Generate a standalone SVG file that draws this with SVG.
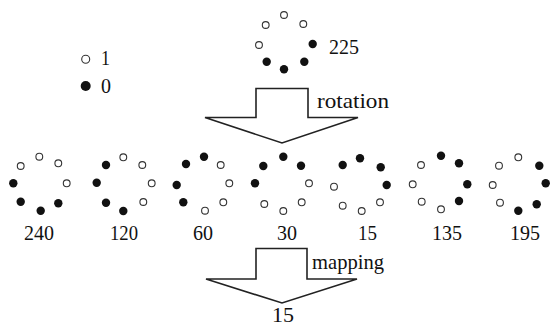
<svg xmlns="http://www.w3.org/2000/svg" width="552" height="327" viewBox="0 0 552 327">
<style>
.o{fill:#fff;stroke:#333;stroke-width:1.1}
.f{fill:#111}
text{font-family:'Liberation Serif','Times New Roman',Times,serif;font-size:21px;fill:#111}
.ar{fill:#fff;stroke:#222;stroke-width:1.6;stroke-linejoin:miter}
</style>
<rect width="552" height="327" fill="#fff"/>
<g id="legend">
<circle class="o" cx="85.7" cy="59.3" r="4"/>
<text x="101" y="65" textLength="9" lengthAdjust="spacingAndGlyphs">1</text>
<circle class="f" cx="85.7" cy="86" r="5"/>
<text x="101" y="93" textLength="10" lengthAdjust="spacingAndGlyphs">0</text>
</g>
<g id="p225">
<circle class="o" cx="284" cy="15" r="3.4"/><circle class="o" cx="265.7" cy="25" r="3.4"/><circle class="o" cx="303.3" cy="24" r="3.4"/><circle class="o" cx="259" cy="45" r="3.4"/>
<circle class="f" cx="312.7" cy="44" r="4.2"/><circle class="f" cx="266.7" cy="61.7" r="4.2"/><circle class="f" cx="284" cy="69.3" r="4.2"/><circle class="f" cx="304.3" cy="61.7" r="4.2"/>
<text x="329" y="54" textLength="30" lengthAdjust="spacingAndGlyphs">225</text>
</g>
<g id="connectors">
<polygon class="ar" points="256,88.5 308,88.5 308,117.5 358,117.5 282,143 205,117.5 256,117.5"/>
<polygon class="ar" points="256,248.5 307,248.5 307,279 357,279 282,303 206,279 256,279"/>
</g>
<g id="rotation-label"><text x="317" y="108" textLength="72" lengthAdjust="spacingAndGlyphs">rotation</text></g>
<g id="mapping-label"><text x="312" y="269" textLength="72" lengthAdjust="spacingAndGlyphs">mapping</text></g>
<g id="p240">
<circle class="o" cx="39.3" cy="156.7" r="3.4"/><circle class="o" cx="20.7" cy="166" r="3.4"/><circle class="o" cx="58.3" cy="163.3" r="3.4"/><circle class="o" cx="66.7" cy="183.3" r="3.4"/>
<circle class="f" cx="13.3" cy="183.3" r="4.2"/><circle class="f" cx="20.7" cy="201.7" r="4.2"/><circle class="f" cx="40.7" cy="210.7" r="4.2"/><circle class="f" cx="58.3" cy="203.3" r="4.2"/>
<text x="24" y="240" textLength="30" lengthAdjust="spacingAndGlyphs">240</text>
</g>
<g id="p120">
<circle class="o" cx="123.3" cy="157.3" r="3.4"/><circle class="o" cx="142.3" cy="165" r="3.4"/><circle class="o" cx="151.7" cy="183.3" r="3.4"/><circle class="o" cx="143.3" cy="202" r="3.4"/>
<circle class="f" cx="106" cy="165" r="4.2"/><circle class="f" cx="96.7" cy="182.7" r="4.2"/><circle class="f" cx="106" cy="202.7" r="4.2"/><circle class="f" cx="123.3" cy="211" r="4.2"/>
<text x="110" y="240" textLength="28" lengthAdjust="spacingAndGlyphs">120</text>
</g>
<g id="p60">
<circle class="o" cx="220.7" cy="165" r="3.4"/><circle class="o" cx="229.3" cy="183.3" r="3.4"/><circle class="o" cx="205" cy="210.7" r="3.4"/><circle class="o" cx="223.3" cy="202.3" r="3.4"/>
<circle class="f" cx="204" cy="156.7" r="4.2"/><circle class="f" cx="186" cy="164" r="4.2"/><circle class="f" cx="176.7" cy="185" r="4.2"/><circle class="f" cx="183.3" cy="202.3" r="4.2"/>
<text x="193" y="240" textLength="20" lengthAdjust="spacingAndGlyphs">60</text>
</g>
<g id="p30">
<circle class="o" cx="309" cy="183.3" r="3.4"/><circle class="o" cx="264.3" cy="204" r="3.4"/><circle class="o" cx="283.3" cy="211" r="3.4"/><circle class="o" cx="301.7" cy="202.3" r="3.4"/>
<circle class="f" cx="283.3" cy="156.7" r="4.2"/><circle class="f" cx="263.3" cy="166" r="4.2"/><circle class="f" cx="301" cy="165.7" r="4.2"/><circle class="f" cx="255" cy="183.3" r="4.2"/>
<text x="277" y="240" textLength="20" lengthAdjust="spacingAndGlyphs">30</text>
</g>
<g id="p15">
<circle class="o" cx="380" cy="202.3" r="3.4"/><circle class="o" cx="361.7" cy="211" r="3.4"/><circle class="o" cx="342.7" cy="205.7" r="3.4"/><circle class="o" cx="334" cy="186.7" r="3.4"/>
<circle class="f" cx="342.7" cy="165" r="4.2"/><circle class="f" cx="360" cy="158.3" r="4.2"/><circle class="f" cx="380.7" cy="167.3" r="4.2"/><circle class="f" cx="386.7" cy="185" r="4.2"/>
<text x="358" y="240" textLength="19" lengthAdjust="spacingAndGlyphs">15</text>
</g>
<g id="p135">
<circle class="o" cx="421" cy="165" r="3.4"/><circle class="o" cx="441" cy="209.3" r="3.4"/><circle class="o" cx="421.7" cy="201.7" r="3.4"/><circle class="o" cx="412.7" cy="184.3" r="3.4"/>
<circle class="f" cx="441" cy="155.7" r="4.2"/><circle class="f" cx="459" cy="163.3" r="4.2"/><circle class="f" cx="467.3" cy="184.3" r="4.2"/><circle class="f" cx="459" cy="201" r="4.2"/>
<text x="432" y="240" textLength="30" lengthAdjust="spacingAndGlyphs">135</text>
</g>
<g id="p195">
<circle class="o" cx="499" cy="165.7" r="3.4"/><circle class="o" cx="518.3" cy="157.3" r="3.4"/><circle class="o" cx="500" cy="202.7" r="3.4"/><circle class="o" cx="492.7" cy="185" r="3.4"/>
<circle class="f" cx="539.3" cy="165.7" r="4.2"/><circle class="f" cx="545.7" cy="183.3" r="4.2"/><circle class="f" cx="536.7" cy="204.3" r="4.2"/><circle class="f" cx="518.3" cy="210.7" r="4.2"/>
<text x="510" y="240" textLength="30" lengthAdjust="spacingAndGlyphs">195</text>
</g>
<g id="result"><text x="272" y="322" font-size="20" textLength="22" lengthAdjust="spacingAndGlyphs">15</text></g>
</svg>
